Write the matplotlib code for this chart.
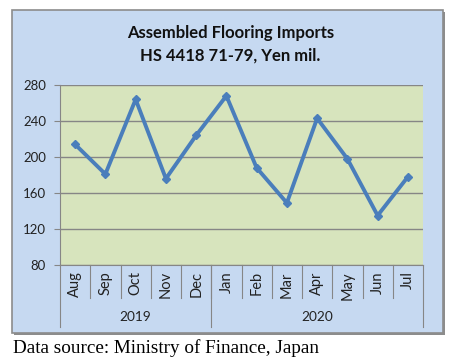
import matplotlib.pyplot as plt
from matplotlib.patches import Rectangle

months = ['Aug', 'Sep', 'Oct', 'Nov', 'Dec', 'Jan', 'Feb', 'Mar', 'Apr', 'May', 'Jun', 'Jul']
years = ['2019', '2020']
year_counts = [5, 7]
imports = [214, 181, 264, 176, 224, 268, 188, 149, 243, 198, 135, 178]

blue = '#4A7EBB'
grid_c = '#868686'

plt.rcParams['font.family'] = ['Lato', 'DejaVu Sans']

fig = plt.figure(figsize=(4.67, 3.61), dpi=100)
fig.patch.set_facecolor('white')

# chart frame, drawn underneath (with a little shadow on right/bottom)
bg = fig.add_axes([0, 0, 1, 1], zorder=0)
bg.set_xlim(0, 467)
bg.set_ylim(361, 0)
bg.axis('off')
bg.add_patch(Rectangle((14, 12), 431, 323, facecolor='#8C8C8C', edgecolor='none'))
bg.add_patch(Rectangle((12, 10), 431, 323, facecolor='#C6D9F1',
                       edgecolor='#8C8C8C', linewidth=1.2))

ax = fig.add_axes([0.1285, 0.2659, 0.7773, 0.4986], zorder=1)
ax.set_facecolor('#D7E4BD')

x = list(range(len(months)))
ax.plot(x, imports, color=blue, linewidth=2.8, marker='D', markersize=4.5, zorder=3)

ax.set_xlim(-0.5, len(months) - 0.5)
ax.set_ylim(80, 280)
ax.set_yticks([80, 120, 160, 200, 240, 280])
ax.yaxis.grid(True, color=grid_c, linewidth=1)
ax.set_axisbelow(True)
ax.tick_params(axis='y', labelsize=9.5, length=4, color=grid_c, pad=6, labelcolor='#222222')
ax.set_xticks([])

for s in ['top', 'right']:
    ax.spines[s].set_visible(False)
ax.spines['left'].set_color(grid_c)
ax.spines['bottom'].set_color(grid_c)

tr = ax.get_xaxis_transform()
for i, m in enumerate(months):
    ax.text(i, -0.035, m, rotation=90, ha='center', va='top', fontsize=10.5,
            color='#222222', transform=tr)
for i in range(1, len(months)):
    ax.plot([i - 0.5, i - 0.5], [0, -0.183], color=grid_c, linewidth=0.8,
            transform=tr, clip_on=False)

pos = -0.5
bounds = [pos]
for yr, n in zip(years, year_counts):
    ax.text(pos + n / 2, -0.289, yr, ha='center', va='center', fontsize=9.8,
            color='#222222', transform=tr)
    pos += n
    bounds.append(pos)
for b in bounds:
    ax.plot([b, b], [0, -0.344], color=grid_c, linewidth=0.8, transform=tr, clip_on=False)

fig.text(0.493, 0.877, 'Assembled Flooring Imports\nHS 4418 71-79, Yen mil.',
         ha='center', va='center', fontsize=12, fontweight='bold', linespacing=1.45,
         color='#111111')

fig.text(0.028, 0.036, 'Data source: Ministry of Finance, Japan', ha='left', va='center',
         fontsize=13.8, family='Liberation Serif')

fig.savefig('out.png', dpi=100)
